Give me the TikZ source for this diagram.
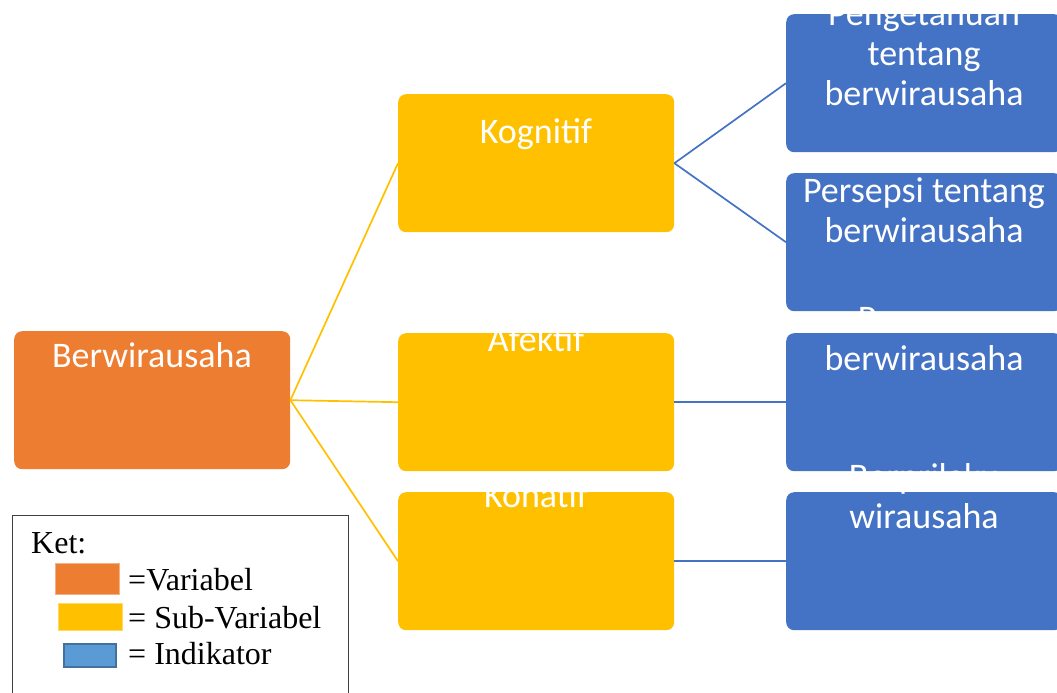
\documentclass[tikz,border=0pt]{standalone}
\usepackage{fontspec}
\usepackage{xcolor}
\setmainfont{Liberation Serif}
\newfontfamily\boxfont{Carlito}

\definecolor{varorange}{HTML}{ED7D31}
\definecolor{subyellow}{HTML}{FFC000}
\definecolor{indblue}{HTML}{4472C4}
\definecolor{legblue}{HTML}{5B9BD5}
\definecolor{legblueline}{HTML}{41719C}

\begin{document}
\begin{tikzpicture}[x=1pt, y=-1pt,
  box/.style={rectangle, rounded corners=8pt, minimum width=276pt, minimum height=138pt, inner sep=0pt, anchor=north west},
  var/.style={box, fill=varorange},
  sub/.style={box, fill=subyellow},
  ind/.style={box, fill=indblue},
  boxtext/.style={text=white, font=\boxfont\fontsize{36}{40}\selectfont, align=center, inner sep=0pt, anchor=north},
  ylink/.style={draw=subyellow, line width=1.7pt},
  blink/.style={draw=indblue, line width=1.7pt},
  swatch/.style={rectangle, inner sep=0pt, anchor=north west},
  legtext/.style={font=\fontsize{32}{37}\selectfont, inner sep=0pt, anchor=base west}]
  \useasboundingbox (0,0) rectangle (1057,693);

  % Define the boxes: variable, sub-variables, indicators
  \node[var] (ber) at (14,331) {};
  \node[sub] (kog) at (398,94) {};
  \node[sub] (afe) at (398,333) {};
  \node[sub] (kon) at (398,492) {};
  \node[ind] (ind1) at (786,14) {};
  \node[ind] (ind2) at (786,173) {};
  \node[ind] (ind3) at (786,333) {};
  \node[ind] (ind4) at (786,492) {};

  % Draw the connecting lines
  \draw[ylink] (ber.east) -- (kog.west);
  \draw[ylink] (ber.east) -- (afe.west);
  \draw[ylink] (ber.east) -- (kon.west);
  \draw[blink] (kog.east) -- (ind1.west);
  \draw[blink] (kog.east) -- (ind2.west);
  \draw[blink] (afe.east) -- (ind3.west);
  \draw[blink] (kon.east) -- (ind4.west);

  % Box texts (white, so they vanish outside the boxes)
  \node[boxtext] (tber) at (152,339) {\strut Berwirausaha};
  \node[boxtext] (tkog) at (536,115) {\strut Kognitif};
  \node[boxtext] (tafe) at (536,323) {\strut Afektif};
  \node[boxtext] (tkon) at (536,479) {\strut Konatif};
  \node[boxtext] (tind1) at (924,-3) {\strut Pengetahuan\\tentang\\berwirausaha};
  \node[boxtext] (tind2) at (924,174) {\strut Persepsi tentang\\berwirausaha};
  \node[boxtext] (tind3) at (924,302) {\strut Perasaan\\berwirausaha};
  \node[boxtext] (tind4) at (924,460) {\strut Berprilaku\\wirausaha};

  % Legend
  \node[rectangle, draw=black!75, line width=1.2pt, minimum width=336pt, minimum height=190pt, inner sep=0pt, anchor=north west] (ket) at (12,515) {};
  \node[legtext] (tket) at (31,553) {Ket:};
  \node[swatch, fill=varorange, draw=varorange!60, minimum width=64pt, minimum height=31pt] (svar) at (55,563) {};
  \node[swatch, fill=subyellow, draw=subyellow!60, minimum width=64pt, minimum height=27pt] (ssub) at (58,603) {};
  \node[swatch, fill=legblue, draw=legblueline, line width=2pt, minimum width=52pt, minimum height=23pt] (sind) at (63,643) {};
  \node[legtext] (tvar) at (128,590) {=Variabel};
  \node[legtext] (tsub) at (128,628) {= Sub-Variabel};
  \node[legtext] (tind) at (128,664) {= Indikator};
\end{tikzpicture}
\end{document}
